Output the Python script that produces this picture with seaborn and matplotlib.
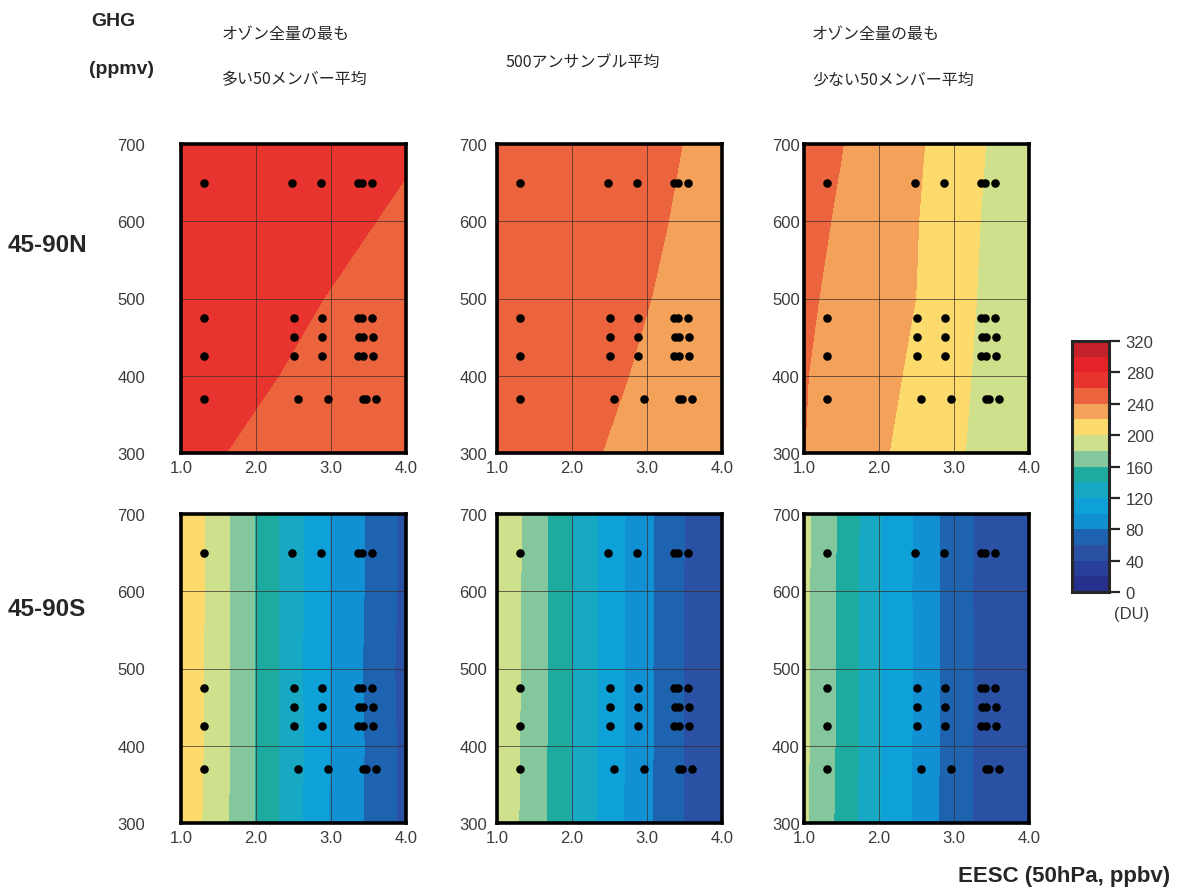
import numpy as np
import pandas as pd
import matplotlib
matplotlib.use('Agg')
import matplotlib.pyplot as plt
from matplotlib.colors import ListedColormap, BoundaryNorm
from matplotlib.cm import ScalarMappable
import seaborn as sns

# grid of the ozone fields (EESC on x, GHG on y)
eesc_grid = [1.0, 1.5, 2.0, 2.5, 3.0, 3.5, 4.0]
ghg_grid = [300, 400, 500, 600, 700]

# total ozone (DU), one row per ghg_grid value
nh_high = [[263, 260.5, 258, 255.5, 253, 250, 247.5],
           [266.5, 264, 261.5, 259, 256, 253.5, 251],
           [270, 267.5, 265, 262, 259.5, 257, 254.5],
           [273.5, 271, 268.5, 266, 263, 260.5, 258],
           [277, 274.5, 272, 269.5, 266.5, 264, 261.5]]
nh_mean = [[249.8, 246.3, 242.8, 239.3, 235.8, 232.3, 228.8],
           [252.3, 248.8, 245.3, 241.8, 238.3, 234.8, 231.3],
           [254.4, 250.9, 247.4, 243.9, 240.4, 236.9, 233.4],
           [256.0, 252.5, 249.0, 245.5, 242.0, 238.5, 235.0],
           [257.3, 253.8, 250.3, 246.8, 243.3, 239.8, 236.3]]
nh_low = [[240.2, 231.4, 222.6, 213, 203, 193, 183],
          [240.9, 233.2, 225.4, 216.6, 205.2, 193.9, 182.5],
          [243.1, 235.3, 227.6, 219.8, 207.4, 195.1, 182.7],
          [246, 237.6, 229.1, 220.7, 208.6, 196.3, 184],
          [249, 240.5, 231, 222.5, 211, 198, 186]]
sh_high = [[215, 188, 158.5, 127, 98, 77, 54],
           [216, 189, 158.5, 127.5, 99, 77.5, 54],
           [217, 189, 158.5, 127, 98.5, 76.5, 53],
           [217, 189.5, 158.5, 127.5, 99, 77.5, 54.5],
           [217.5, 189, 158.5, 127.5, 98.5, 78, 55]]
sh_mean = [[194, 170, 138.5, 110, 83.5, 59.5, 41.5],
           [194.5, 170.5, 139, 110.5, 84, 59.5, 42],
           [195, 171, 139.5, 110.5, 84, 59, 41.5],
           [195, 171.5, 139.5, 110.5, 84, 59.5, 41.5],
           [195.5, 171.5, 139.5, 111, 84.5, 60, 42]]
sh_low = [[183.5, 154, 121, 96.5, 68.5, 51, 43],
          [184, 155, 121.5, 97, 69, 51, 43],
          [184.5, 155.5, 121.5, 97.5, 69.5, 51.5, 43],
          [184.5, 155.5, 121.5, 97, 69, 51, 43],
          [185, 156, 122, 97.5, 69.5, 51.5, 43.5]]

# experiment points
dot_eesc = [1.3, 2.48, 2.87, 3.36, 3.41, 3.55,
            1.3, 2.5, 2.88, 3.36, 3.41, 3.55,
            2.5, 2.88, 3.37, 3.42, 3.56,
            1.3, 2.5, 2.88, 3.36, 3.42, 3.56,
            1.3, 2.56, 2.96, 3.42, 3.47, 3.6]
dot_ghg = [650] * 6 + [475] * 6 + [450] * 5 + [425] * 6 + [370] * 6

levels = list(range(0, 340, 20))
du_colors = ['#252f8c', '#283f99', '#2a51a4', '#1d63b0', '#1190d4', '#0ea1d8',
             '#17a8c4', '#1eab9f', '#84c79c', '#cfe08c', '#fcdb6c', '#f4a25a',
             '#ec643e', '#e8342e', '#e42228', '#c3222a']

col_titles = [['オゾン全量の最も', '多い50メンバー平均'], ['500アンサンブル平均'],
              ['オゾン全量の最も', '少ない50メンバー平均']]
row_labels = ['45-90N', '45-90S']

sns.set_style('white')
plt.rcParams['font.family'] = ['Liberation Sans', 'DejaVu Sans']

W, H = 1179, 895
fig = plt.figure(figsize=(W / 100, H / 100), dpi=100)

cmap = ListedColormap(du_colors)
norm = BoundaryNorm(levels, cmap.N)
X, Y = np.meshgrid(eesc_grid, ghg_grid)
dots = pd.DataFrame({'eesc': dot_eesc, 'ghg': dot_ghg})

fields = [[nh_high, nh_mean, nh_low], [sh_high, sh_mean, sh_low]]
lefts = [181, 497, 804]
tops = [145, 515]
pads = [26, 7, 3]
pw, ph = 225, 309

for r in range(2):
    for c in range(3):
        ax = fig.add_axes([lefts[c] / W, 1 - (tops[r] + ph) / H, pw / W, ph / H])
        ax.contourf(X, Y, np.array(fields[r][c]), levels=levels, cmap=cmap, norm=norm)
        sns.scatterplot(data=dots, x='eesc', y='ghg', ax=ax, color='black',
                        s=38, linewidth=0, legend=False, zorder=3)
        for gx in [2.0, 3.0]:
            ax.axvline(gx, color='#3a2a2a', lw=0.7, alpha=0.7, zorder=2)
        for gy in [400, 500, 600]:
            ax.axhline(gy, color='#3a2a2a', lw=0.7, alpha=0.7, zorder=2)
        ax.set_xlim(1.0, 4.0)
        ax.set_ylim(300, 700)
        ax.set_xticks([1.0, 2.0, 3.0, 4.0])
        ax.set_xticklabels(['1.0', '2.0', '3.0', '4.0'])
        ax.set_yticks([300, 400, 500, 600, 700])
        ax.set_xlabel('')
        ax.set_ylabel('')
        ax.tick_params(axis='both', length=0, labelsize=12, labelcolor='#3c3c3c')
        ax.tick_params(axis='y', pad=pads[c])
        ax.tick_params(axis='x', pad=5)
        for sp in ax.spines.values():
            sp.set_visible(True)
            sp.set_linewidth(2.6)
            sp.set_color('black')

# colour bar
cax = fig.add_axes([1072 / W, 1 - 593 / H, 37 / W, 251 / H])
sm = ScalarMappable(norm=norm, cmap=cmap)
cb = fig.colorbar(sm, cax=cax, ticks=list(range(0, 321, 40)))
cb.ax.minorticks_off()
cb.outline.set_linewidth(2.2)
cb.ax.tick_params(length=8, width=1.6, pad=4, labelsize=12, labelcolor='#3c3c3c')
fig.text(1114 / W, 1 - 614 / H, '(DU)', fontsize=12, color='#3c3c3c', va='center')

# labels
fig.text(91 / W, 1 - 22 / H, 'GHG', fontsize=14, fontweight='bold', va='center')
fig.text(89 / W, 1 - 70 / H, '(ppmv)', fontsize=14, fontweight='bold', va='center')
fig.text(8 / W, 1 - 245 / H, row_labels[0], fontsize=17.5, fontweight='bold', va='center')
fig.text(8 / W, 1 - 610 / H, row_labels[1], fontsize=17.5, fontweight='bold', va='center')
fig.text(1170 / W, 1 - 877 / H, 'EESC (50hPa, ppbv)', fontsize=16, fontweight='bold',
         va='center', ha='right')

jp = ['Noto Sans CJK JP', 'DejaVu Sans']
fig.text(222 / W, 1 - 35 / H, col_titles[0][0], fontsize=11.5, family=jp, va='center')
fig.text(222 / W, 1 - 80 / H, col_titles[0][1], fontsize=11.5, family=jp, va='center')
fig.text(505 / W, 1 - 62 / H, col_titles[1][0], fontsize=11.5, family=jp, va='center')
fig.text(812 / W, 1 - 35 / H, col_titles[2][0], fontsize=11.5, family=jp, va='center')
fig.text(812 / W, 1 - 80 / H, col_titles[2][1], fontsize=11.5, family=jp, va='center')

fig.savefig('out.png', dpi=100)
